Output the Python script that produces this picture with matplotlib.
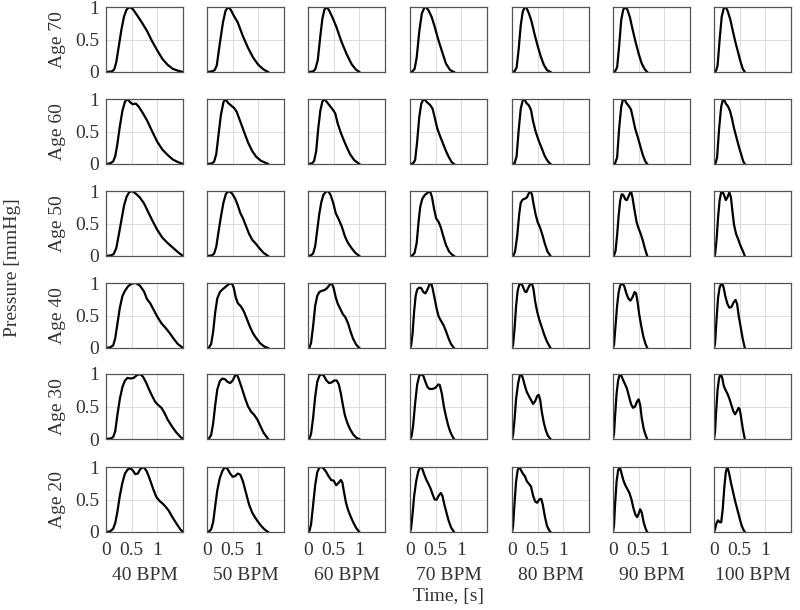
import matplotlib
matplotlib.use("Agg")
import matplotlib.pyplot as plt

# row / column labels
ages = [70, 60, 50, 40, 30, 20]
bpms = [40, 50, 60, 70, 80, 90, 100]

# normalised pressure waveforms, one (time, pressure) pair per BPM
age70 = [
    ([0, 0.12, 0.16, 0.2, 0.25, 0.3, 0.35, 0.4, 0.46, 0.52, 0.6, 0.7, 0.8, 0.9, 1.0, 1.1, 1.2, 1.3, 1.4, 1.5],
     [0, 0.01, 0.04, 0.15, 0.4, 0.65, 0.85, 0.96, 1.0, 0.97, 0.88, 0.76, 0.63, 0.47, 0.33, 0.2, 0.11, 0.05, 0.02, 0]),
    ([0, 0.1, 0.15, 0.19, 0.25, 0.31, 0.36, 0.41, 0.46, 0.52, 0.6, 0.7, 0.8, 0.9, 1.0, 1.1, 1.19],
     [0, 0.01, 0.03, 0.1, 0.44, 0.76, 0.94, 1.0, 0.96, 0.87, 0.76, 0.55, 0.37, 0.22, 0.11, 0.04, 0]),
    ([0, 0.1, 0.14, 0.19, 0.24, 0.28, 0.32, 0.36, 0.41, 0.47, 0.55, 0.65, 0.75, 0.85, 0.93, 1.0],
     [0, 0.01, 0.04, 0.18, 0.55, 0.82, 0.96, 1.0, 0.95, 0.85, 0.7, 0.47, 0.28, 0.12, 0.04, 0]),
    ([0, 0.05, 0.09, 0.13, 0.18, 0.23, 0.28, 0.31, 0.36, 0.42, 0.48, 0.55, 0.63, 0.7, 0.78, 0.857],
     [0, 0.01, 0.05, 0.22, 0.62, 0.9, 0.99, 1.0, 0.95, 0.85, 0.7, 0.5, 0.3, 0.13, 0.03, 0]),
    ([0, 0.05, 0.09, 0.13, 0.17, 0.21, 0.25, 0.28, 0.33, 0.38, 0.44, 0.5, 0.56, 0.62, 0.68, 0.75],
     [0, 0.01, 0.07, 0.35, 0.72, 0.93, 1.0, 0.99, 0.9, 0.78, 0.58, 0.4, 0.24, 0.11, 0.03, 0]),
    ([0, 0.04, 0.08, 0.12, 0.16, 0.2, 0.24, 0.28, 0.33, 0.38, 0.44, 0.5, 0.56, 0.62, 0.667],
     [0, 0.01, 0.07, 0.4, 0.8, 0.96, 1.0, 0.96, 0.84, 0.66, 0.46, 0.28, 0.13, 0.04, 0]),
    ([0, 0.04, 0.07, 0.11, 0.15, 0.19, 0.23, 0.27, 0.32, 0.37, 0.42, 0.47, 0.52, 0.56, 0.6],
     [0, 0.02, 0.1, 0.5, 0.85, 0.98, 1.0, 0.93, 0.8, 0.62, 0.45, 0.3, 0.15, 0.05, 0]),
]
age60 = [
    ([0, 0.08, 0.14, 0.18, 0.22, 0.27, 0.32, 0.37, 0.42, 0.47, 0.52, 0.58, 0.64, 0.72, 0.8, 0.9, 1.0, 1.1, 1.2, 1.3, 1.4, 1.5],
     [0, 0.01, 0.04, 0.12, 0.3, 0.58, 0.82, 0.96, 1.0, 0.95, 0.92, 0.93, 0.88, 0.78, 0.67, 0.5, 0.34, 0.22, 0.14, 0.07, 0.03, 0]),
    ([0, 0.1, 0.14, 0.18, 0.22, 0.27, 0.32, 0.36, 0.41, 0.47, 0.53, 0.58, 0.65, 0.72, 0.8, 0.88, 0.96, 1.05, 1.19],
     [0, 0.01, 0.04, 0.15, 0.42, 0.75, 0.95, 1.0, 0.94, 0.9, 0.86, 0.8, 0.65, 0.5, 0.33, 0.2, 0.11, 0.05, 0]),
    ([0, 0.08, 0.12, 0.16, 0.2, 0.24, 0.28, 0.32, 0.37, 0.42, 0.48, 0.53, 0.58, 0.64, 0.7, 0.76, 0.82, 0.9, 1.0],
     [0, 0.01, 0.05, 0.2, 0.55, 0.82, 0.96, 1.0, 0.95, 0.9, 0.84, 0.78, 0.62, 0.48, 0.36, 0.25, 0.15, 0.06, 0]),
    ([0, 0.06, 0.1, 0.14, 0.18, 0.22, 0.26, 0.28, 0.33, 0.39, 0.44, 0.48, 0.53, 0.58, 0.64, 0.7, 0.76, 0.81, 0.857],
     [0, 0.01, 0.06, 0.35, 0.72, 0.93, 0.99, 1.0, 0.95, 0.91, 0.85, 0.72, 0.55, 0.44, 0.32, 0.2, 0.1, 0.03, 0]),
    ([0, 0.05, 0.09, 0.13, 0.17, 0.21, 0.24, 0.28, 0.33, 0.37, 0.41, 0.46, 0.52, 0.58, 0.64, 0.7, 0.75],
     [0, 0.01, 0.12, 0.52, 0.85, 0.98, 1.0, 0.94, 0.9, 0.83, 0.66, 0.5, 0.36, 0.24, 0.12, 0.04, 0]),
    ([0, 0.04, 0.08, 0.12, 0.16, 0.19, 0.22, 0.26, 0.3, 0.35, 0.39, 0.43, 0.48, 0.53, 0.58, 0.63, 0.667],
     [0, 0.01, 0.1, 0.55, 0.88, 0.98, 1.0, 0.94, 0.9, 0.84, 0.7, 0.55, 0.42, 0.28, 0.14, 0.04, 0]),
    ([0, 0.03, 0.06, 0.1, 0.14, 0.17, 0.19, 0.23, 0.27, 0.31, 0.35, 0.39, 0.44, 0.49, 0.54, 0.57, 0.6],
     [0, 0.01, 0.1, 0.55, 0.88, 0.98, 1.0, 0.93, 0.89, 0.82, 0.7, 0.55, 0.4, 0.25, 0.12, 0.04, 0]),
]
age50 = [
    ([0, 0.1, 0.15, 0.2, 0.25, 0.3, 0.35, 0.4, 0.45, 0.51, 0.58, 0.66, 0.74, 0.82, 0.9, 1.0, 1.1, 1.2, 1.3, 1.4, 1.5],
     [0, 0.01, 0.03, 0.12, 0.33, 0.55, 0.77, 0.91, 0.98, 1.0, 0.96, 0.9, 0.81, 0.68, 0.55, 0.4, 0.28, 0.2, 0.13, 0.06, 0]),
    ([0, 0.1, 0.14, 0.18, 0.22, 0.27, 0.32, 0.37, 0.43, 0.49, 0.55, 0.6, 0.65, 0.7, 0.76, 0.82, 0.88, 0.95, 1.02, 1.1, 1.19],
     [0, 0.01, 0.04, 0.14, 0.35, 0.6, 0.82, 0.96, 1.0, 0.96, 0.88, 0.78, 0.66, 0.58, 0.46, 0.34, 0.25, 0.19, 0.12, 0.05, 0]),
    ([0, 0.06, 0.1, 0.14, 0.18, 0.22, 0.26, 0.3, 0.35, 0.39, 0.44, 0.49, 0.54, 0.6, 0.66, 0.72, 0.78, 0.85, 0.92, 1.0],
     [0, 0.01, 0.04, 0.15, 0.4, 0.65, 0.83, 0.94, 0.99, 1.0, 0.94, 0.82, 0.66, 0.56, 0.45, 0.3, 0.2, 0.12, 0.05, 0]),
    ([0, 0.05, 0.09, 0.13, 0.17, 0.2, 0.24, 0.29, 0.34, 0.39, 0.43, 0.47, 0.51, 0.56, 0.6, 0.65, 0.7, 0.76, 0.82, 0.857],
     [0, 0.01, 0.05, 0.2, 0.55, 0.76, 0.88, 0.94, 0.97, 1.0, 0.9, 0.72, 0.58, 0.52, 0.44, 0.3, 0.17, 0.07, 0.02, 0]),
    ([0, 0.03, 0.06, 0.1, 0.14, 0.17, 0.21, 0.25, 0.29, 0.33, 0.36, 0.39, 0.42, 0.46, 0.5, 0.55, 0.59, 0.64, 0.69, 0.75],
     [0, 0.01, 0.07, 0.3, 0.64, 0.82, 0.87, 0.88, 0.9, 0.97, 1.0, 0.94, 0.8, 0.64, 0.52, 0.43, 0.33, 0.19, 0.07, 0]),
    ([0, 0.02, 0.05, 0.08, 0.11, 0.14, 0.17, 0.2, 0.24, 0.27, 0.31, 0.35, 0.38, 0.42, 0.46, 0.5, 0.54, 0.58, 0.62, 0.667],
     [0, 0.01, 0.08, 0.32, 0.62, 0.85, 0.95, 0.94, 0.87, 0.86, 0.93, 1.0, 0.9, 0.7, 0.52, 0.42, 0.34, 0.24, 0.12, 0]),
    ([0, 0.02, 0.05, 0.08, 0.11, 0.14, 0.16, 0.19, 0.23, 0.26, 0.3, 0.33, 0.36, 0.39, 0.43, 0.47, 0.51, 0.56, 0.6],
     [0, 0.02, 0.25, 0.6, 0.86, 0.98, 1.0, 0.95, 0.86, 0.9, 0.98, 0.9, 0.68, 0.48, 0.34, 0.26, 0.17, 0.08, 0]),
]
age40 = [
    ([0, 0.08, 0.14, 0.18, 0.22, 0.27, 0.32, 0.37, 0.43, 0.5, 0.58, 0.66, 0.74, 0.8, 0.86, 0.92, 1.0, 1.08, 1.16, 1.24, 1.32, 1.4, 1.5],
     [0, 0.01, 0.04, 0.15, 0.36, 0.62, 0.8, 0.88, 0.95, 0.99, 1.0, 0.96, 0.87, 0.75, 0.69, 0.6, 0.48, 0.38, 0.31, 0.23, 0.14, 0.06, 0]),
    ([0, 0.04, 0.08, 0.12, 0.16, 0.2, 0.25, 0.3, 0.36, 0.42, 0.48, 0.52, 0.56, 0.6, 0.66, 0.72, 0.78, 0.84, 0.9, 0.96, 1.04, 1.12, 1.19],
     [0, 0.01, 0.06, 0.25, 0.55, 0.76, 0.86, 0.9, 0.94, 0.98, 1.0, 0.93, 0.78, 0.69, 0.64, 0.56, 0.44, 0.32, 0.22, 0.15, 0.07, 0.02, 0]),
    ([0, 0.03, 0.06, 0.1, 0.14, 0.18, 0.22, 0.27, 0.32, 0.37, 0.42, 0.46, 0.5, 0.54, 0.58, 0.63, 0.68, 0.73, 0.78, 0.83, 0.88, 0.94, 1.0],
     [0, 0.01, 0.08, 0.34, 0.65, 0.8, 0.86, 0.88, 0.89, 0.92, 0.97, 1.0, 0.92, 0.78, 0.68, 0.6, 0.52, 0.47, 0.38, 0.25, 0.14, 0.05, 0]),
    ([0, 0.02, 0.05, 0.08, 0.11, 0.14, 0.18, 0.22, 0.26, 0.3, 0.34, 0.38, 0.41, 0.44, 0.48, 0.52, 0.56, 0.61, 0.66, 0.7, 0.75, 0.8, 0.857],
     [0, 0.03, 0.22, 0.56, 0.8, 0.9, 0.93, 0.92, 0.86, 0.84, 0.9, 0.98, 1.0, 0.92, 0.76, 0.6, 0.48, 0.41, 0.34, 0.26, 0.15, 0.06, 0]),
    ([0, 0.02, 0.05, 0.08, 0.11, 0.14, 0.17, 0.21, 0.25, 0.28, 0.32, 0.36, 0.39, 0.42, 0.45, 0.49, 0.53, 0.58, 0.63, 0.68, 0.75],
     [0, 0.04, 0.3, 0.65, 0.88, 0.97, 1.0, 0.95, 0.87, 0.86, 0.93, 0.99, 0.99, 0.9, 0.72, 0.56, 0.44, 0.32, 0.2, 0.1, 0]),
    ([0, 0.02, 0.05, 0.08, 0.11, 0.14, 0.18, 0.22, 0.26, 0.3, 0.34, 0.38, 0.42, 0.45, 0.48, 0.51, 0.55, 0.59, 0.63, 0.667],
     [0, 0.05, 0.35, 0.65, 0.86, 0.96, 1.0, 0.95, 0.84, 0.76, 0.73, 0.78, 0.86, 0.84, 0.7, 0.52, 0.34, 0.18, 0.07, 0]),
    ([0, 0.02, 0.05, 0.08, 0.11, 0.14, 0.16, 0.19, 0.22, 0.26, 0.3, 0.34, 0.38, 0.42, 0.45, 0.48, 0.52, 0.56, 0.6],
     [0, 0.06, 0.45, 0.78, 0.93, 0.99, 1.0, 0.92, 0.8, 0.68, 0.62, 0.63, 0.7, 0.74, 0.68, 0.5, 0.32, 0.14, 0]),
]
age30 = [
    ([0, 0.1, 0.14, 0.18, 0.22, 0.27, 0.32, 0.37, 0.42, 0.48, 0.54, 0.6, 0.66, 0.72, 0.78, 0.84, 0.9, 0.96, 1.02, 1.08, 1.14, 1.2, 1.28, 1.36, 1.44, 1.5],
     [0, 0.01, 0.03, 0.12, 0.36, 0.62, 0.8, 0.9, 0.94, 0.93, 0.94, 0.98, 1.0, 0.96, 0.87, 0.76, 0.66, 0.57, 0.52, 0.48, 0.4, 0.3, 0.2, 0.11, 0.04, 0]),
    ([0, 0.04, 0.08, 0.12, 0.16, 0.2, 0.25, 0.3, 0.35, 0.4, 0.45, 0.5, 0.55, 0.58, 0.62, 0.68, 0.74, 0.8, 0.86, 0.92, 0.98, 1.04, 1.1, 1.19],
     [0, 0.01, 0.06, 0.24, 0.52, 0.76, 0.89, 0.93, 0.92, 0.88, 0.86, 0.9, 0.98, 1.0, 0.92, 0.78, 0.63, 0.5, 0.42, 0.37, 0.3, 0.2, 0.1, 0]),
    ([0, 0.03, 0.06, 0.1, 0.14, 0.18, 0.22, 0.27, 0.31, 0.36, 0.41, 0.46, 0.51, 0.56, 0.6, 0.64, 0.68, 0.72, 0.77, 0.82, 0.88, 0.94, 1.0],
     [0, 0.01, 0.08, 0.33, 0.65, 0.88, 0.97, 1.0, 0.97, 0.9, 0.86, 0.87, 0.9, 0.9, 0.84, 0.7, 0.52, 0.36, 0.24, 0.15, 0.07, 0.02, 0]),
    ([0, 0.03, 0.06, 0.1, 0.14, 0.18, 0.22, 0.26, 0.3, 0.34, 0.38, 0.44, 0.5, 0.55, 0.58, 0.62, 0.66, 0.7, 0.74, 0.78, 0.82, 0.857],
     [0, 0.04, 0.2, 0.55, 0.84, 0.97, 1.0, 0.97, 0.88, 0.8, 0.77, 0.77, 0.79, 0.84, 0.83, 0.7, 0.5, 0.35, 0.22, 0.12, 0.05, 0]),
    ([0, 0.02, 0.05, 0.08, 0.12, 0.15, 0.18, 0.21, 0.25, 0.29, 0.33, 0.37, 0.41, 0.45, 0.49, 0.52, 0.55, 0.58, 0.62, 0.66, 0.7, 0.75],
     [0, 0.06, 0.3, 0.62, 0.86, 0.97, 1.0, 0.94, 0.82, 0.72, 0.66, 0.6, 0.54, 0.58, 0.66, 0.68, 0.6, 0.42, 0.25, 0.13, 0.05, 0]),
    ([0, 0.02, 0.04, 0.07, 0.1, 0.13, 0.15, 0.19, 0.23, 0.27, 0.31, 0.35, 0.39, 0.43, 0.47, 0.5, 0.53, 0.56, 0.6, 0.64, 0.667],
     [0, 0.08, 0.35, 0.7, 0.9, 0.99, 1.0, 0.92, 0.85, 0.78, 0.66, 0.54, 0.48, 0.5, 0.58, 0.61, 0.52, 0.32, 0.15, 0.05, 0]),
    ([0, 0.02, 0.04, 0.07, 0.1, 0.13, 0.16, 0.19, 0.22, 0.26, 0.3, 0.34, 0.38, 0.41, 0.44, 0.48, 0.5, 0.53, 0.56, 0.6],
     [0, 0.1, 0.4, 0.76, 0.94, 1.0, 0.94, 0.82, 0.76, 0.7, 0.62, 0.52, 0.42, 0.38, 0.42, 0.48, 0.46, 0.32, 0.16, 0]),
]
age20 = [
    ([0, 0.08, 0.14, 0.18, 0.22, 0.27, 0.32, 0.37, 0.42, 0.47, 0.52, 0.57, 0.62, 0.67, 0.73, 0.79, 0.85, 0.92, 0.98, 1.04, 1.1, 1.16, 1.22, 1.3, 1.38, 1.45, 1.5],
     [0, 0.01, 0.05, 0.14, 0.3, 0.56, 0.76, 0.9, 0.96, 0.98, 0.95, 0.89, 0.9, 0.97, 1.0, 0.94, 0.82, 0.66, 0.54, 0.48, 0.44, 0.39, 0.33, 0.22, 0.12, 0.04, 0]),
    ([0, 0.04, 0.08, 0.12, 0.16, 0.2, 0.25, 0.3, 0.35, 0.4, 0.45, 0.5, 0.55, 0.6, 0.65, 0.7, 0.76, 0.82, 0.88, 0.94, 1.0, 1.06, 1.12, 1.19],
     [0, 0.01, 0.04, 0.15, 0.4, 0.64, 0.83, 0.94, 1.0, 0.97, 0.9, 0.85, 0.86, 0.9, 0.88, 0.78, 0.6, 0.42, 0.3, 0.22, 0.15, 0.09, 0.04, 0]),
    ([0, 0.03, 0.06, 0.1, 0.14, 0.18, 0.22, 0.26, 0.3, 0.35, 0.4, 0.45, 0.5, 0.55, 0.6, 0.64, 0.67, 0.7, 0.74, 0.78, 0.83, 0.88, 0.94, 1.0],
     [0, 0.02, 0.12, 0.42, 0.72, 0.92, 0.99, 1.0, 0.98, 0.93, 0.86, 0.8, 0.79, 0.72, 0.76, 0.8, 0.76, 0.62, 0.45, 0.34, 0.24, 0.15, 0.06, 0]),
    ([0, 0.02, 0.05, 0.08, 0.12, 0.16, 0.2, 0.24, 0.28, 0.32, 0.36, 0.4, 0.44, 0.48, 0.52, 0.56, 0.6, 0.63, 0.67, 0.71, 0.75, 0.8, 0.857],
     [0, 0.05, 0.28, 0.55, 0.78, 0.93, 1.0, 0.97, 0.88, 0.8, 0.74, 0.67, 0.58, 0.5, 0.5, 0.56, 0.6, 0.56, 0.42, 0.3, 0.18, 0.07, 0]),
    ([0, 0.02, 0.05, 0.08, 0.11, 0.14, 0.17, 0.21, 0.25, 0.29, 0.33, 0.37, 0.41, 0.45, 0.49, 0.53, 0.57, 0.6, 0.64, 0.68, 0.72, 0.75],
     [0, 0.08, 0.45, 0.78, 0.95, 1.0, 0.96, 0.9, 0.86, 0.78, 0.74, 0.7, 0.56, 0.47, 0.45, 0.5, 0.51, 0.42, 0.24, 0.1, 0.03, 0]),
    ([0, 0.02, 0.04, 0.07, 0.1, 0.13, 0.16, 0.2, 0.24, 0.28, 0.32, 0.36, 0.4, 0.44, 0.47, 0.5, 0.53, 0.56, 0.6, 0.64, 0.667],
     [0, 0.1, 0.42, 0.78, 0.95, 1.0, 0.92, 0.8, 0.72, 0.66, 0.6, 0.5, 0.36, 0.26, 0.23, 0.28, 0.35, 0.3, 0.14, 0.04, 0]),
    ([0, 0.02, 0.05, 0.08, 0.11, 0.14, 0.17, 0.2, 0.23, 0.26, 0.29, 0.33, 0.37, 0.41, 0.45, 0.49, 0.53, 0.57, 0.6],
     [0, 0.04, 0.14, 0.18, 0.15, 0.15, 0.35, 0.68, 0.92, 1.0, 0.92, 0.76, 0.62, 0.48, 0.36, 0.24, 0.12, 0.04, 0]),
]
rows = [age70, age60, age50, age40, age30, age20]

plt.rcParams['font.family'] = ['Liberation Serif', 'DejaVu Serif']
FS = 14
TXT = '#333333'

W, H = 800, 610
fig = plt.figure(figsize=(W / 100, H / 100), dpi=100)

col_left = [106, 207, 308, 410, 512, 613, 714]
row_top = [7, 99, 191, 283, 374, 467]
ax_w, ax_h = 77, 65

for r, age in enumerate(ages):
    for c, bpm in enumerate(bpms):
        ax = fig.add_axes([col_left[c] / W, 1 - (row_top[r] + ax_h) / H, ax_w / W, ax_h / H])
        t, p = rows[r][c]
        ax.plot(t, p, color='black', lw=1.6)
        ax.set_xlim(0, 1.5)
        ax.set_ylim(0, 1)
        ax.set_xticks([0, 0.5, 1])
        ax.set_yticks([0, 0.5, 1])
        ax.grid(True, color='#dcdcdc', lw=0.7)
        ax.set_axisbelow(True)
        for s in ax.spines.values():
            s.set_color('#555555')
            s.set_linewidth(0.9)
        ax.tick_params(length=0, labelsize=FS, labelcolor=TXT)
        ax.tick_params(axis='y', pad=5)
        ax.tick_params(axis='x', pad=7)
        if c == 0:
            ax.set_yticklabels(['0', '0.5', '1'])
            fig.text(57 / W, 1 - (row_top[r] + ax_h / 2) / H, f'Age {age}', rotation=90,
                     ha='center', va='center', fontsize=FS, color=TXT)
        else:
            ax.set_yticklabels([])
        if r == len(ages) - 1:
            ax.set_xticklabels(['0', '0.5', '1'])
            fig.text((col_left[c] + ax_w / 2) / W, 1 - 576 / H, f'{bpm} BPM',
                     ha='center', va='center', fontsize=FS, color=TXT)
        else:
            ax.set_xticklabels([])

fig.text(13 / W, 1 - 268 / H, 'Pressure [mmHg]', rotation=90, ha='center', va='center', fontsize=FS, color=TXT)
fig.text(448 / W, 1 - 597 / H, 'Time, [s]', ha='center', va='center', fontsize=FS, color=TXT)

fig.savefig('out.png', dpi=100)
